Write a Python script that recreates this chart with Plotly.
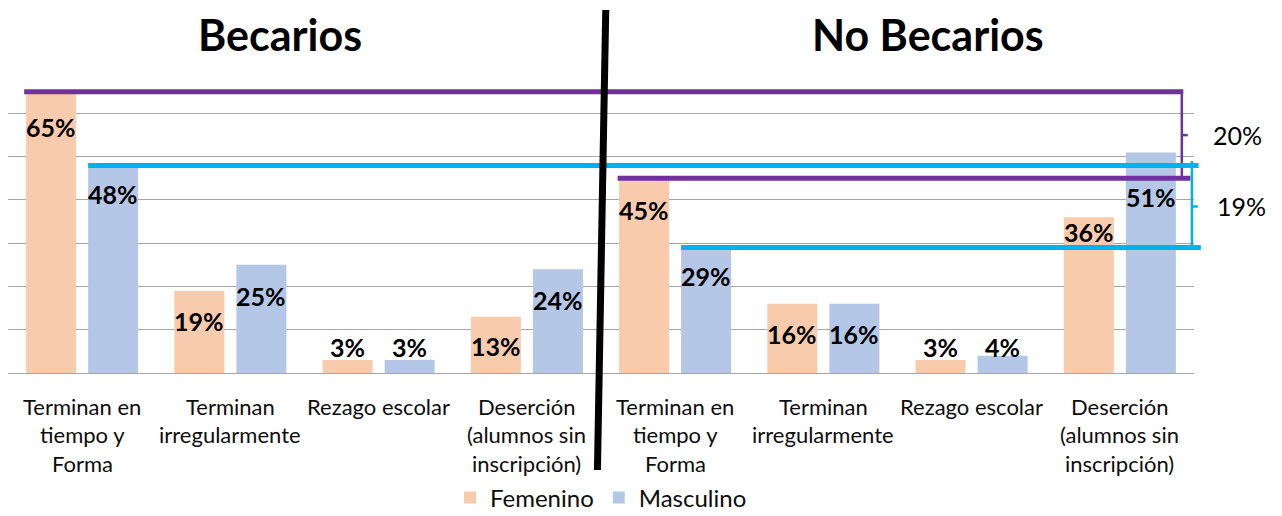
import plotly.graph_objects as go

# ---------------- data ----------------
categories = [
    "Terminan en\ntiempo y\nForma",
    "Terminan\nirregularmente",
    "Rezago escolar",
    "Deserción\n(alumnos sin\ninscripción)",
    "Terminan en\ntiempo y\nForma",
    "Terminan\nirregularmente",
    "Rezago escolar",
    "Deserción\n(alumnos sin\ninscripción)",
]
group_titles = ["Becarios", "No Becarios"]
series_names = ["Femenino", "Masculino"]
femenino = [65, 19, 3, 13, 45, 16, 3, 36]
masculino = [48, 25, 3, 24, 29, 16, 4, 51]

# ---------------- style ----------------
FEM_COLOR = "#F8CBAD"
MAS_COLOR = "#B4C7E7"
PURPLE = "#7030A0"
CYAN = "#00B0F0"
GRID = "#A6A6A6"
FONT = "Lato"
TXT = "#0d0d0d"

# pixel offsets (downwards from bar top) of the value labels
fem_label_shift = [35, 30, -13, 29, 32, 30, -13, 15]
mas_label_shift = [29, 31, -13, 31, 28, 30, -9, 45]

# the page body adds an 8px margin, so the figure is 8px smaller than the window
W, H = 1274, 508
ML, MR, MT, MB = 0, 88, 62, 143
BARGAP = 0.163
BARGROUPGAP = 0.194
YMAX = 70

n = len(categories)
xs = list(range(n))


def xpaper(v):
    return (v + 0.5) / n


slot = (1 - BARGAP) / 2
half_bar = slot * (1 - BARGROUPGAP) / 2
fem_x = [i - slot / 2 for i in xs]
mas_x = [i + slot / 2 for i in xs]

fig = go.Figure()
fig.add_trace(go.Bar(x=xs, y=femenino, name=series_names[0],
                     marker=dict(color=FEM_COLOR, line=dict(width=0)),
                     hoverinfo="skip"))
fig.add_trace(go.Bar(x=xs, y=masculino, name=series_names[1],
                     marker=dict(color=MAS_COLOR, line=dict(width=0)),
                     hoverinfo="skip"))

annotations = []
# value labels
for i in xs:
    for vx, val, sh in ((fem_x[i], femenino[i], fem_label_shift[i]),
                        (mas_x[i], masculino[i], mas_label_shift[i])):
        annotations.append(dict(
            x=vx, xref="x", y=val, yref="y", yanchor="middle", xanchor="center",
            yshift=-sh, text=f"{val}%", showarrow=False,
            font=dict(family=FONT, size=25, color="#000000", weight=700)))

# category labels (one annotation per line for Excel-like spacing)
for i, lab in enumerate(categories):
    for j, line in enumerate(lab.split("\n")):
        annotations.append(dict(
            x=i, xref="x", y=0, yref="y", yanchor="middle", xanchor="center",
            yshift=-(33 + 28.5 * j), text=line, showarrow=False,
            font=dict(family=FONT, size=22, color=TXT)))

# group titles
for k, t in enumerate(group_titles):
    annotations.append(dict(
        x=[0.229, 0.776][k], xref="paper", y=1.118, yref="paper",
        xanchor="center", yanchor="middle", text=t, showarrow=False,
        font=dict(family=FONT, size=43, color="#000000", weight=700)))

# difference brackets
right_edge = mas_x[-1] + half_bar
px_b = right_edge + 0.04   # purple bracket
cy_b = right_edge + 0.108  # cyan bracket
tick = 0.04

shapes = []
# purple: Femenino Becarios vs No Becarios (Terminan en tiempo y forma)
shapes.append(dict(type="line", xref="paper", yref="y",
                   x0=xpaper(fem_x[0] - half_bar - 0.013), x1=xpaper(px_b + 0.01),
                   y0=femenino[0], y1=femenino[0],
                   line=dict(color=PURPLE, width=5)))
shapes.append(dict(type="line", xref="paper", yref="y",
                   x0=xpaper(fem_x[4] - half_bar - 0.01), x1=xpaper(cy_b - 0.01),
                   y0=femenino[4], y1=femenino[4],
                   line=dict(color=PURPLE, width=5)))
shapes.append(dict(type="line", xref="paper", yref="y",
                   x0=xpaper(px_b), x1=xpaper(px_b),
                   y0=femenino[0], y1=femenino[4],
                   line=dict(color=PURPLE, width=2.5)))
shapes.append(dict(type="line", xref="paper", yref="y",
                   x0=xpaper(px_b), x1=xpaper(px_b + tick),
                   y0=(femenino[0] + femenino[4]) / 2, y1=(femenino[0] + femenino[4]) / 2,
                   line=dict(color=PURPLE, width=2.5)))
# cyan: Masculino
shapes.append(dict(type="line", xref="paper", yref="y",
                   x0=xpaper(mas_x[0] - half_bar), x1=xpaper(cy_b + 0.045),
                   y0=masculino[0], y1=masculino[0],
                   line=dict(color=CYAN, width=5)))
shapes.append(dict(type="line", xref="paper", yref="y",
                   x0=xpaper(mas_x[4] - half_bar), x1=xpaper(cy_b + 0.06),
                   y0=masculino[4], y1=masculino[4],
                   line=dict(color=CYAN, width=5)))
shapes.append(dict(type="line", xref="paper", yref="y",
                   x0=xpaper(cy_b), x1=xpaper(cy_b),
                   y0=masculino[0] + 1, y1=masculino[4],
                   line=dict(color=CYAN, width=2.5)))
shapes.append(dict(type="line", xref="paper", yref="y",
                   x0=xpaper(cy_b), x1=xpaper(cy_b + tick),
                   y0=(masculino[0] + masculino[4]) / 2, y1=(masculino[0] + masculino[4]) / 2,
                   line=dict(color=CYAN, width=2.5)))

annotations.append(dict(
    x=1.037, xref="paper", y=(femenino[0] + femenino[4]) / 2, yref="y",
    xanchor="center", yanchor="middle", text=f"{femenino[0] - femenino[4]}%",
    showarrow=False, font=dict(family=FONT, size=25, color="#000000")))
annotations.append(dict(
    x=1.04, xref="paper", y=(masculino[0] + masculino[4]) / 2, yref="y",
    xanchor="center", yanchor="middle", text=f"{masculino[0] - masculino[4]}%",
    showarrow=False, font=dict(family=FONT, size=25, color="#000000")))

# black divider between the two groups
shapes.append(dict(type="line", xref="paper", yref="paper",
                   x0=xpaper(3.5) + 0.004, x1=xpaper(3.5) - 0.003,
                   y0=1.198, y1=-0.32,
                   line=dict(color="#000000", width=7)))

fig.update_layout(
    width=W, height=H,
    margin=dict(l=ML, r=MR, t=MT, b=MB, autoexpand=False),
    paper_bgcolor="white", plot_bgcolor="white",
    barmode="group", bargap=BARGAP, bargroupgap=BARGROUPGAP,
    font=dict(family=FONT, color=TXT),
    showlegend=True,
    legend=dict(orientation="h", x=0.5, xanchor="center", y=-0.412, yanchor="middle",
                font=dict(family=FONT, size=24, color=TXT)),
    xaxis=dict(range=[-0.5, n - 0.5], showticklabels=False, showgrid=False,
               zeroline=False, ticks=""),
    yaxis=dict(range=[0, YMAX + 0.05], dtick=10, tick0=0, showticklabels=False,
               showgrid=True, gridcolor=GRID, gridwidth=1.3, zeroline=True,
               zerolinecolor=GRID, zerolinewidth=1.3, ticks=""),
    annotations=annotations,
    shapes=shapes,
)

fig.write_html("out.html")
